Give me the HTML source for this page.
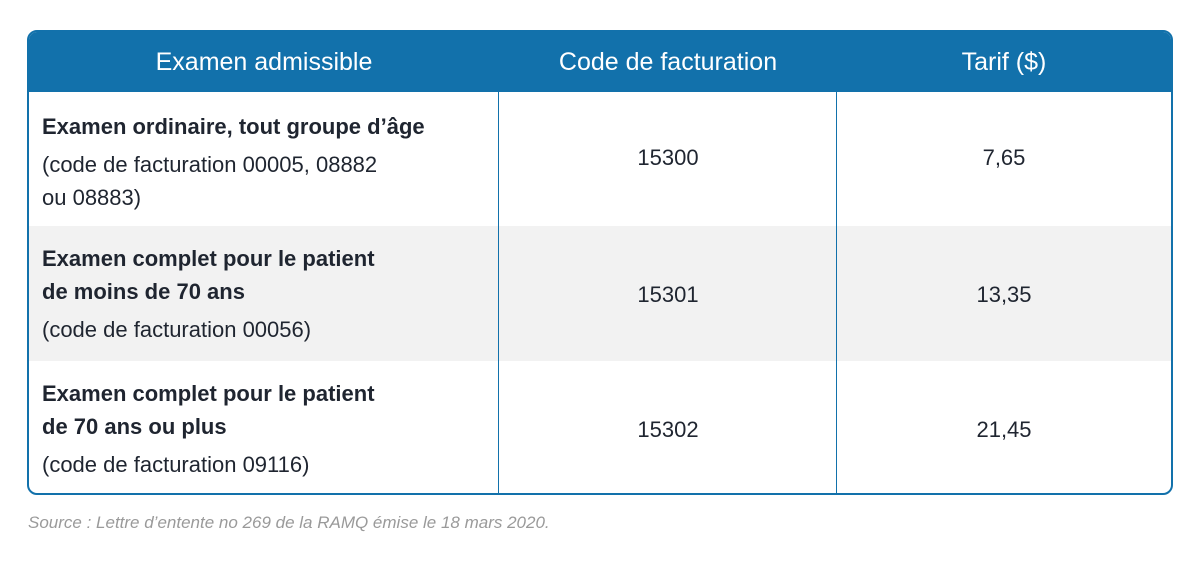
<!DOCTYPE html>
<html><head><meta charset="utf-8"><style>
body{margin:0;width:1200px;height:562px;background:#fff;position:relative;font-family:"Liberation Sans",sans-serif;overflow:hidden}
.tbl{position:absolute;left:27px;top:30px;width:1142px;height:461px;border:2px solid #1271ab;border-radius:10px;overflow:hidden;background:#fff}
.hdr{position:absolute;left:0;top:0;width:100%;height:60px;background:#1271ab}
.h{position:absolute;top:0;height:60px;line-height:60px;color:#fff;font-size:25px;text-align:center}
.row{position:absolute;left:0;width:100%}
.vl{position:absolute;top:60px;bottom:0;width:1px;background:#1271ab}
.c1{position:absolute;left:13px;color:#1f2530;font-size:22px;line-height:33px}
.c1 b{font-weight:bold}
.v{position:absolute;text-align:center;font-size:22px;color:#1f2530}
.src{position:absolute;left:28px;top:513px;font-size:17px;font-style:italic;color:#9a9a9a}
</style></head><body>
<div class="tbl">
 <div class="hdr">
  <div class="h" style="left:0;width:470px">Examen admissible</div>
  <div class="h" style="left:470px;width:338px">Code de facturation</div>
  <div class="h" style="left:808px;width:334px">Tarif ($)</div>
 </div>
 <div class="row" style="top:60px;height:134px">
  <div class="c1" style="top:18px"><b>Examen ordinaire, tout groupe d’âge</b><br><span style="display:block;margin-top:5px">(code de facturation 00005, 08882<br>ou 08883)</span></div>
  <div class="v" style="left:470px;width:338px;top:53px">15300</div>
  <div class="v" style="left:808px;width:334px;top:53px">7,65</div>
 </div>
 <div class="row" style="top:194px;height:135px;background:#f2f2f2">
  <div class="c1" style="top:16px"><b>Examen complet pour le patient<br>de moins de 70 ans</b><br><span style="display:block;margin-top:5px">(code de facturation 00056)</span></div>
  <div class="v" style="left:470px;width:338px;top:56px">15301</div>
  <div class="v" style="left:808px;width:334px;top:56px">13,35</div>
 </div>
 <div class="row" style="top:329px;height:132px">
  <div class="c1" style="top:16px"><b>Examen complet pour le patient<br>de 70 ans ou plus</b><br><span style="display:block;margin-top:5px">(code de facturation 09116)</span></div>
  <div class="v" style="left:470px;width:338px;top:56px">15302</div>
  <div class="v" style="left:808px;width:334px;top:56px">21,45</div>
 </div>
 <div class="vl" style="left:469px"></div>
 <div class="vl" style="left:807px"></div>
</div>
<div class="src">Source : Lettre d’entente no 269 de la RAMQ émise le 18 mars 2020.</div>
</body></html>
